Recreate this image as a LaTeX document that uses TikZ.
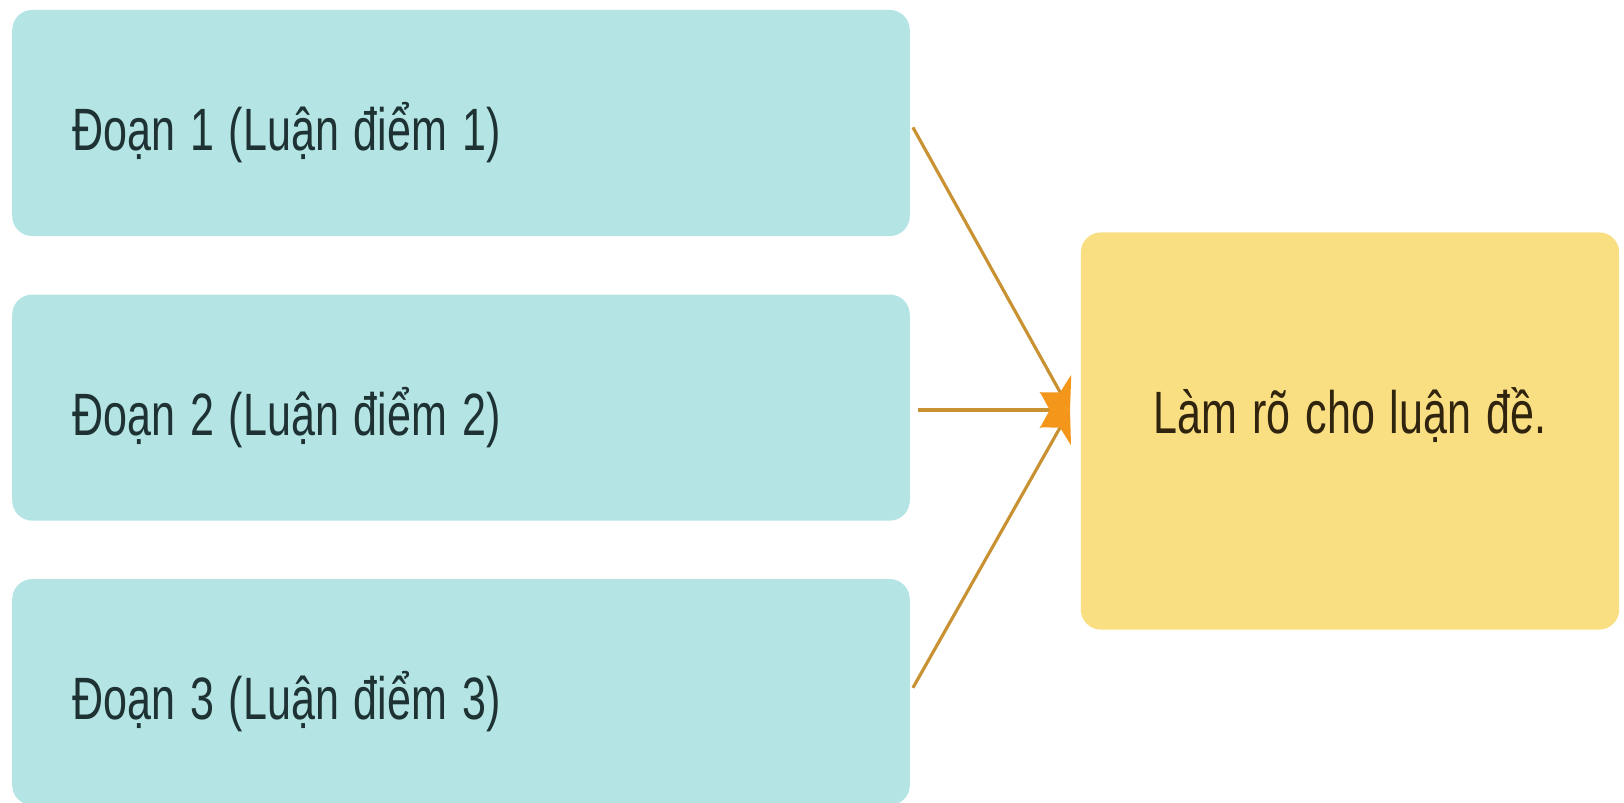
\documentclass[tikz,border=0pt]{standalone}
\usepackage{fontspec}
\setmainfont{Liberation Sans}[FakeStretch=0.72,WordSpace=1.25]
\usetikzlibrary{positioning,arrows.meta}
\newcommand{\doanlabel}[1]{\makebox[7.77cm][l]{#1}}

\begin{document}
\begin{tikzpicture}[x=0.01cm,y=-0.01cm,
  doanbox/.style={rounded corners=0.2cm,fill=boxcolor,text=doantext,
    inner xsep=0.6cm,minimum height=2.26cm,text height=0.69cm,text depth=0.14cm,
    font=\fontsize{17}{20}\selectfont},
  ketbox/.style={rounded corners=0.2cm,fill=ketcolor,text=kettext,
    minimum width=5.38cm,minimum height=3.97cm,text depth=0.4cm,
    font=\fontsize{17}{20}\selectfont},
  link/.style={draw=linecolor,line width=0.9pt,
    -{Stealth[length=3mm,width=3.6mm,color=tipcolor]}}]
\definecolor{boxcolor}{RGB}{180,228,228}
\definecolor{ketcolor}{RGB}{249,222,130}
\definecolor{doantext}{RGB}{30,50,52}
\definecolor{kettext}{RGB}{48,36,14}
\definecolor{linecolor}{RGB}{200,145,50}
\definecolor{tipcolor}{RGB}{243,150,25}
\useasboundingbox (0,0) rectangle (1624,803);
\node[doanbox] (doan1) at (461,123) {\doanlabel{Đoạn 1 (Luận điểm 1)}};
\node[doanbox,below=0.57cm of doan1] (doan2) {\doanlabel{Đoạn 2 (Luận điểm 2)}};
\node[doanbox,below=0.57cm of doan2] (doan3) {\doanlabel{Đoạn 3 (Luận điểm 3)}};
\node[ketbox] (ketluan) at (1350,431) {Làm rõ cho luận đề.};
\coordinate (tip) at (1070,410);
\draw[link,shorten <=0.05cm] (doan1.east) -- (tip);
\draw[link,shorten <=0.08cm] (doan2.east |- tip) -- (tip);
\draw[link,shorten <=0.05cm] (doan3.east) -- (tip);
\end{tikzpicture}
\end{document}
